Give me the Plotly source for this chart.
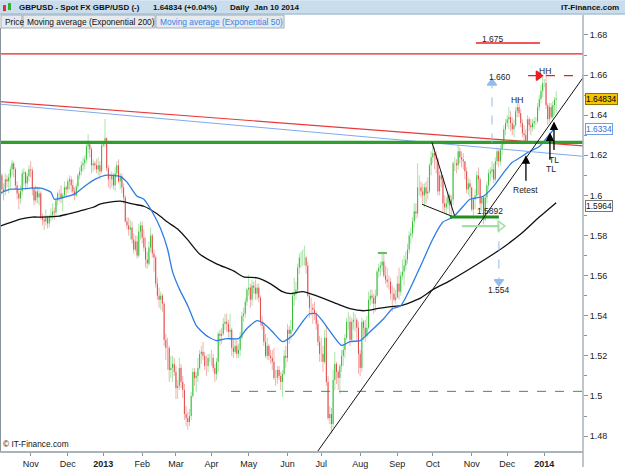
import plotly.graph_objects as go
import pandas as pd

# ---------------- data ----------------
START_DATE = "2012-10-08"   # first visible daily bar (weekdays only)
OPEN_FIRST = 1.6135

close_px = [
    # Oct 2012
    1.6100,1.6030,1.6020,1.6080,1.6070, 1.6090,1.6130,1.6160,1.6130,1.6050, 1.6010,1.5985,1.6020,1.6110,1.6115, 1.6060,1.6095,1.6130,
    # Nov 2012
    1.6125,1.6030, 1.5975,1.6020,1.5990,1.6010,1.5890, 1.5880,1.5870,1.5890,1.5860,1.5890, 1.5900,1.5920,1.5915,1.5975,1.6010, 1.6010,1.5985,1.6000,1.6040,1.6030,
    # Dec 2012
    1.6070,1.6080,1.6050,1.6020,1.6000, 1.6045,1.6100,1.6120,1.6150,1.6160, 1.6180,1.6245,1.6255,1.6230,1.6150, 1.6160,1.6150,1.6130,1.6150,1.6120, 1.6250,
    # Jan 2013
    1.6255, 1.6285,1.6135,1.6080, 1.6080,1.6100,1.6050,1.6110,1.6150, 1.6070,1.6095,1.6040,1.5990,1.5870, 1.5850,1.5830,1.5840,1.5780,1.5730, 1.5770,1.5700,1.5820,1.5850,
    # Feb 2013
    1.5790,1.5740,1.5680,1.5660,1.5740, 1.5800,1.5710,1.5690,1.5560,1.5500, 1.5480,1.5500,1.5460,1.5280,1.5240, 1.5240,1.5130,1.5140,1.5160,1.5120,
    # Mar 2013
    1.5040,1.5050,1.5140,1.5070,1.5030, 1.4910,1.4890,1.4870,1.4900,1.5000, 1.5120,1.5090,1.5100,1.5140,1.5210, 1.5220,1.5200,1.5150,1.5150,1.5190, 1.5190,
    # Apr 2013
    1.5190,1.5140,1.5110,1.5170,1.5310, 1.5300,1.5310,1.5360,1.5370,1.5360, 1.5320,1.5330,1.5240,1.5220,1.5250, 1.5210,1.5230,1.5290,1.5400,1.5410, 1.5470,1.5530,
    # May 2013
    1.5540,1.5480,1.5550, 1.5540,1.5510,1.5540,1.5490,1.5370, 1.5350,1.5270,1.5200,1.5250,1.5200, 1.5190,1.5170,1.5090,1.5090,1.5130, 1.5100,1.5070,1.5110,1.5200,1.5190,
    # Jun 2013
    1.5330,1.5310,1.5330,1.5500,1.5510, 1.5530,1.5640,1.5690,1.5690,1.5690, 1.5690,1.5650,1.5500,1.5440,1.5440, 1.5430,1.5410,1.5360,1.5270,1.5210,
    # Jul 2013
    1.5210,1.5170,1.5290,1.5070,1.4890, 1.4910,1.4860,1.5080,1.5160,1.5120, 1.5090,1.5150,1.5200,1.5230,1.5290, 1.5370,1.5370,1.5280,1.5370,1.5380, 1.5380,1.5340,1.5210,
    # Aug 2013
    1.5140,1.5370, 1.5340,1.5300,1.5340,1.5480,1.5500, 1.5490,1.5460,1.5500,1.5620,1.5640, 1.5650,1.5670,1.5600,1.5580,1.5570, 1.5570,1.5510,1.5510,1.5480,1.5490,
    # Sep 2013
    1.5560,1.5520,1.5600,1.5620,1.5650, 1.5680,1.5730,1.5800,1.5810,1.5870, 1.5920,1.5910,1.6040,1.6040,1.6020, 1.6000,1.6040,1.6010,1.6020,1.6150, 1.6190,
    # Oct 2013
    1.6210,1.6200,1.6180,1.6020, 1.6100,1.6080,1.5960,1.5940,1.5960, 1.6000,1.5950,1.5980,1.6160,1.6160, 1.6150,1.6220,1.6190,1.6180,1.6170, 1.6120,1.6030,1.6060,1.6040,
    # Nov 2013
    1.5930, 1.5980,1.6000,1.6100,1.6080,1.5960, 1.5990,1.5880,1.5990,1.6050,1.6110, 1.6120,1.6130,1.6080,1.6170,1.6220, 1.6170,1.6230,1.6260,1.6330,1.6360,
    # Dec 2013
    1.6380,1.6390,1.6360,1.6330,1.6350, 1.6420,1.6440,1.6410,1.6360,1.6310, 1.6300,1.6270,1.6380,1.6350,1.6340, 1.6360,1.6370,1.6370,1.6440,1.6480, 1.6520,1.6560,
    # Jan 2014
    1.6560,1.6450,1.6380,1.6440,1.6390,1.6450,1.6477,1.64834,
]

high_px = [
    1.6145,1.6110,1.6060,1.6110,1.6100, 1.6110,1.6145,1.6178,1.6170,1.6140, 1.6070,1.6030,1.6050,1.6130,1.6135, 1.6120,1.6110,1.6150,
    1.6172,1.6140, 1.6040,1.6050,1.6040,1.6040,1.6020, 1.5910,1.5900,1.5930,1.5900,1.5905, 1.5935,1.5960,1.5940,1.5990,1.6020, 1.6030,1.6050,1.6010,1.6070,1.6050,
    1.6085,1.6100,1.6095,1.6080,1.6040, 1.6060,1.6110,1.6140,1.6170,1.6190, 1.6200,1.6260,1.6305,1.6270,1.6240, 1.6180,1.6170,1.6180,1.6190,1.6170, 1.6270,
    1.6270, 1.6381,1.6290,1.6150, 1.6110,1.6120,1.6110,1.6140,1.6170, 1.6180,1.6110,1.6110,1.6060,1.6000, 1.5890,1.5890,1.5880,1.5870,1.5810, 1.5800,1.5800,1.5860,1.5870,
    1.5870,1.5830,1.5790,1.5720,1.5770, 1.5840,1.5810,1.5730,1.5700,1.5590, 1.5540,1.5520,1.5510,1.5470,1.5310, 1.5290,1.5250,1.5200,1.5200,1.5190,
    1.5150,1.5080,1.5190,1.5160,1.5100, 1.5060,1.4950,1.4920,1.4935,1.5020, 1.5140,1.5140,1.5120,1.5190,1.5230, 1.5250,1.5270,1.5220,1.5200,1.5210, 1.5210,
    1.5230,1.5210,1.5160,1.5190,1.5320, 1.5330,1.5340,1.5390,1.5410,1.5410, 1.5380,1.5410,1.5340,1.5290,1.5290, 1.5280,1.5260,1.5320,1.5420,1.5440, 1.5490,1.5540,
    1.5605,1.5560,1.5580, 1.5570,1.5580,1.5560,1.5560,1.5500, 1.5400,1.5370,1.5310,1.5290,1.5260, 1.5230,1.5230,1.5240,1.5130,1.5150, 1.5150,1.5120,1.5130,1.5230,1.5250,
    1.5360,1.5350,1.5380,1.5520,1.5590, 1.5570,1.5660,1.5710,1.5720,1.5730, 1.5750,1.5700,1.5670,1.5510,1.5490, 1.5460,1.5470,1.5420,1.5380,1.5300,
    1.5290,1.5250,1.5330,1.5350,1.5100, 1.4950,1.4940,1.5130,1.5220,1.5170, 1.5130,1.5160,1.5230,1.5260,1.5310, 1.5390,1.5420,1.5400,1.5390,1.5420, 1.5410,1.5390,1.5370,
    1.5230,1.5390, 1.5380,1.5380,1.5400,1.5520,1.5530, 1.5530,1.5510,1.5530,1.5630,1.5660, 1.5670,1.5720,1.5710,1.5650,1.5640, 1.5600,1.5590,1.5550,1.5540,1.5530,
    1.5600,1.5640,1.5620,1.5680,1.5700, 1.5720,1.5760,1.5820,1.5840,1.5890, 1.5960,1.5960,1.6160,1.6100,1.6070, 1.6060,1.6060,1.6070,1.6090,1.6160, 1.6220,
    1.6259,1.6240,1.6220,1.6190, 1.6120,1.6120,1.6100,1.6000,1.5990, 1.6020,1.6010,1.6000,1.6170,1.6190, 1.6180,1.6254,1.6240,1.6220,1.6210, 1.6170,1.6140,1.6090,1.6080,
    1.6040, 1.5990,1.6030,1.6120,1.6140,1.6090, 1.6000,1.6000,1.6000,1.6070,1.6130, 1.6140,1.6170,1.6160,1.6190,1.6240, 1.6230,1.6250,1.6280,1.6350,1.6380,
    1.6400,1.6440,1.6420,1.6390,1.6380, 1.6440,1.6485,1.6460,1.6430,1.6380, 1.6350,1.6330,1.6400,1.6390,1.6380, 1.6380,1.6390,1.6390,1.6460,1.6500, 1.6550,1.6590,
    1.6580,1.6604,1.6460,1.6460,1.6460,1.6470,1.6490,1.6520,
]

low_px = [
    1.6080,1.6005,1.5975,1.6000,1.6040, 1.6010,1.6040,1.6100,1.6090,1.6030, 1.5980,1.5930,1.5960,1.6000,1.6050, 1.6030,1.6040,1.6070,
    1.6090,1.6000, 1.5950,1.5960,1.5960,1.5950,1.5880, 1.5850,1.5828,1.5850,1.5835,1.5840, 1.5870,1.5880,1.5880,1.5900,1.5950, 1.5970,1.5960,1.5920,1.5990,1.5990,
    1.6010,1.6030,1.6015,1.6000,1.5975, 1.5990,1.6030,1.6080,1.6100,1.6120, 1.6130,1.6160,1.6210,1.6190,1.6110, 1.6120,1.6130,1.6110,1.6100,1.6080, 1.6110,
    1.6240, 1.6240,1.6120,1.6040, 1.6030,1.6040,1.6030,1.6020,1.6090, 1.6060,1.6030,1.6010,1.5960,1.5865, 1.5830,1.5800,1.5780,1.5760,1.5710, 1.5720,1.5685,1.5690,1.5780,
    1.5760,1.5720,1.5640,1.5634,1.5650, 1.5720,1.5690,1.5620,1.5540,1.5480, 1.5440,1.5430,1.5420,1.5250,1.5180, 1.5130,1.5070,1.5090,1.5070,1.5100,
    1.4985,1.4985,1.5030,1.5040,1.4990, 1.4880,1.4850,1.4832,1.4850,1.4880, 1.4990,1.5050,1.5020,1.5070,1.5130, 1.5160,1.5180,1.5130,1.5100,1.5120, 1.5170,
    1.5150,1.5120,1.5070,1.5080,1.5120, 1.5250,1.5260,1.5300,1.5330,1.5320, 1.5290,1.5280,1.5200,1.5190,1.5210, 1.5190,1.5190,1.5200,1.5280,1.5370, 1.5390,1.5450,
    1.5500,1.5440,1.5450, 1.5510,1.5480,1.5480,1.5470,1.5350, 1.5330,1.5250,1.5190,1.5180,1.5180, 1.5160,1.5130,1.5080,1.5050,1.5060, 1.5080,1.5030,1.4995,1.5100,1.5140,
    1.5170,1.5260,1.5280,1.5320,1.5450, 1.5480,1.5510,1.5610,1.5640,1.5650, 1.5650,1.5610,1.5490,1.5390,1.5400, 1.5360,1.5380,1.5330,1.5250,1.5170,
    1.5170,1.5120,1.5160,1.5050,1.4880, 1.4860,1.4813,1.4840,1.5030,1.5060, 1.5030,1.5010,1.5120,1.5150,1.5190, 1.5280,1.5330,1.5250,1.5270,1.5330, 1.5320,1.5270,1.5110,
    1.5100,1.5120, 1.5280,1.5270,1.5290,1.5330,1.5450, 1.5460,1.5410,1.5420,1.5490,1.5590, 1.5600,1.5620,1.5590,1.5560,1.5540, 1.5530,1.5480,1.5420,1.5470,1.5460,
    1.5490,1.5480,1.5500,1.5580,1.5550, 1.5630,1.5660,1.5710,1.5760,1.5790, 1.5840,1.5880,1.5890,1.6000,1.5990, 1.5960,1.5940,1.5960,1.5980,1.6010, 1.6100,
    1.6160,1.6130,1.6110,1.6000, 1.6000,1.6040,1.5920,1.5910,1.5900, 1.5930,1.5895,1.5890,1.5950,1.6120, 1.6110,1.6130,1.6160,1.6140,1.6130, 1.6080,1.6010,1.6000,1.5990,
    1.5920, 1.5900,1.5930,1.5990,1.6000,1.5930, 1.5920,1.5855,1.5870,1.5960,1.6030, 1.6070,1.6090,1.6060,1.6070,1.6150, 1.6140,1.6150,1.6200,1.6250,1.6300,
    1.6340,1.6330,1.6320,1.6300,1.6290, 1.6340,1.6390,1.6390,1.6340,1.6290, 1.6270,1.6255,1.6260,1.6320,1.6300, 1.6320,1.6330,1.6350,1.6360,1.6420, 1.6460,1.6490,
    1.6540,1.6430,1.6350,1.6360,1.6380,1.6380,1.6400,1.6410,
]

# Moving averages (bar index, value)
ema200_idx = [0,12,19,24,35,40,47,55,59,65,71,79,85,93,99,105,111,118,128,138,144,152,160,167,172,179,187,199,207,215,223,231,237,248,256,266,278,290,298,308,319,329]
ema200_val = [1.5847,1.5882,1.5892,1.5892,1.5897,1.5907,1.5922,1.5941,1.5956,1.5966,1.5971,1.5956,1.5946,1.5907,1.5867,1.5832,1.5778,1.5708,1.5659,1.5624,1.5594,1.5589,1.5559,1.5520,1.5510,1.5520,1.5500,1.5460,1.5435,1.5425,1.5435,1.5445,1.5450,1.5485,1.5530,1.5574,1.5634,1.5698,1.5743,1.5807,1.5892,1.5964]
ema50_idx = [0,6,12,18,24,30,32,38,44,50,56,62,66,71,75,81,85,90,95,99,102,106,111,116,122,128,134,141,146,152,156,161,167,173,179,183,187,191,197,202,207,213,219,227,232,237,248,256,262,268,274,278,286,292,298,303,308,312,319,327,329]
ema50_val = [1.6011,1.6031,1.6031,1.6036,1.6036,1.6016,1.5981,1.5991,1.6006,1.6046,1.6080,1.6100,1.6100,1.6095,1.6066,1.5996,1.5981,1.5917,1.5832,1.5733,1.5619,1.5534,1.5450,1.5351,1.5301,1.5276,1.5286,1.5286,1.5336,1.5376,1.5361,1.5321,1.5271,1.5301,1.5371,1.5410,1.5410,1.5371,1.5301,1.5252,1.5271,1.5276,1.5321,1.5386,1.5435,1.5450,1.5634,1.5783,1.5867,1.5892,1.5946,1.5981,1.5996,1.6046,1.6115,1.6165,1.6190,1.6214,1.6244,1.6324,1.6334]

month_labels = ["Nov", "Dec", "<b>2013</b>", "Feb", "Mar", "Apr", "May", "Jun", "Jul",
                "Aug", "Sep", "Oct", "Nov", "Dec", "<b>2014</b>"]

# drawn levels / tags
LAST_PRICE = 1.64834
EMA50_LAST = 1.6334
EMA200_LAST = 1.5964
LEVEL_RED = 1.6706
LEVEL_1675 = 1.6760
LEVEL_1660 = 1.6597
LEVEL_NECK = 1.6264
LEVEL_1592 = 1.5892
LEVEL_150 = 1.5023

X0, X1 = -0.13, 344.87
Y0, Y1 = 1.47256, 1.68347

# ---------------- build ----------------
n = len(close_px)
dates = pd.bdate_range(START_DATE, periods=n)
x = list(range(n))
open_px = [OPEN_FIRST] + close_px[:-1]
high_px = [max(h, o, c) for h, o, c in zip(high_px, open_px, close_px)]
low_px = [min(l, o, c) for l, o, c in zip(low_px, open_px, close_px)]
body_hi = [max(o, c) for o, c in zip(open_px, close_px)]
body_lo = [min(o, c) for o, c in zip(open_px, close_px)]

tickvals = [i for i in range(1, n) if dates[i].month != dates[i - 1].month]
ticktext = month_labels[:len(tickvals)]

G_LIGHT, G_DARK = "#a9e4a9", "#35bb35"
R_LIGHT, R_DARK = "#f4b0b0", "#e24a4a"

fig = go.Figure()
fig.add_trace(go.Ohlc(
    x=x, open=open_px, high=high_px, low=low_px, close=close_px,
    increasing=dict(line=dict(color=G_LIGHT, width=1)),
    decreasing=dict(line=dict(color=R_LIGHT, width=1)),
    tickwidth=0, hoverinfo="skip", showlegend=False))
fig.add_trace(go.Ohlc(
    x=x, open=open_px, high=body_hi, low=body_lo, close=close_px,
    increasing=dict(line=dict(color=G_DARK, width=1)),
    decreasing=dict(line=dict(color=R_DARK, width=1)),
    tickwidth=0, hoverinfo="skip", showlegend=False))

fig.add_trace(go.Scatter(x=ema200_idx, y=ema200_val, mode="lines",
                         line=dict(color="#111111", width=1.3, shape="spline", smoothing=0.6),
                         hoverinfo="skip", showlegend=False))
fig.add_trace(go.Scatter(x=ema50_idx, y=ema50_val, mode="lines",
                         line=dict(color="#2b7de3", width=1.3, shape="spline", smoothing=0.6),
                         hoverinfo="skip", showlegend=False))


def seg(xs, ys, color, width=1.0, dash="solid"):
    fig.add_trace(go.Scatter(x=xs, y=ys, mode="lines",
                             line=dict(color=color, width=width, dash=dash),
                             hoverinfo="skip", showlegend=False))


def mark(xv, yv, symbol, color, size):
    fig.add_trace(go.Scatter(x=[xv], y=[yv], mode="markers",
                             marker=dict(symbol=symbol, color=color, size=size,
                                         line=dict(color=color, width=1.5)),
                             hoverinfo="skip", showlegend=False))


# long trend / level lines
seg([X0, X1], [1.6468, 1.6247], "#e83a3a", 1.2)        # red descending
seg([X0, X1], [1.6455, 1.6195], "#7eaaf0", 1.0)        # light blue descending
seg([X0, X1], [LEVEL_RED, LEVEL_RED], "#e82020", 1.3)
seg([X0, X1], [LEVEL_NECK, LEVEL_NECK], "#2f9e2f", 3.2)
seg([136.6, X1], [LEVEL_150, LEVEL_150], "#2f9e2f", 1.0, "dash")
seg([223.5, 232.4], [1.5713, 1.5713], "#5cc05c", 2.0, "dash")
seg([281.5, 319.4], [LEVEL_1675, LEVEL_1675], "#e82020", 1.5)
seg([312.3, X1], [LEVEL_1660, LEVEL_1660], "#e82020", 1.3, "dash")
mark(318.5, LEVEL_1660, "triangle-right", "#e82020", 8)

# wedge + main trend line
seg([255.5, 269.1], [LEVEL_NECK, LEVEL_1592], "#111111", 1.0)
seg([249.6, 268.5], [1.5956, LEVEL_1592], "#111111", 1.0)
seg([266.1, 295.1], [LEVEL_1592, LEVEL_1592], "#1f8f1f", 3.0)
seg([188.0, X1], [1.47256, 1.6587], "#111111", 1.0)

# measured-move arrows
seg([291.0, 291.0], [LEVEL_NECK, 1.6550], "#93bbef", 1.0, "dash")
mark(291.0, 1.6560, "triangle-up", "#93bbef", 8)
seg([295.1, 295.1], [1.5860, 1.5578], "#93bbef", 1.0, "dash")
mark(295.1, 1.5570, "triangle-down", "#93bbef", 8)
seg([273.2, 294.8], [1.5847, 1.5847], "#a3dea3", 2.2)
mark(296.0, 1.5847, "triangle-right-open", "#a3dea3", 9)

ann = []


def text(xv, yv, t, size=8.5, color="#222222"):
    ann.append(dict(x=xv, y=yv, xref="x", yref="y", text=t, showarrow=False,
                    font=dict(size=size, color=color)))


def arrow(xv, y_tail, y_tip):
    ann.append(dict(x=xv, y=y_tip, ax=xv, ay=y_tail, xref="x", yref="y",
                    axref="x", ayref="y", text="", showarrow=True,
                    arrowhead=2, arrowsize=1.3, arrowwidth=1.3, arrowcolor="#000000"))


text(291.6, 1.6780, "1.675")
text(322.1, 1.6621, "HH")
text(305.8, 1.6477, "HH")
text(295.7, 1.6592, "1.660")
text(289.8, 1.5922, "1.5892")
text(295.1, 1.5530, "1.554")
text(311.1, 1.6026, "Retest")
text(328.0, 1.6175, "TL")
text(325.9, 1.6130, "TL")
arrow(311.1, 1.6066, 1.6200)
arrow(325.3, 1.6170, 1.6314)
arrow(327.7, 1.6219, 1.6368)

# right-axis price tags
for val, label, bg, bc, fc, ys in [(LAST_PRICE, "1.64834", "#f6c400", "#8c7400", "#000000", -1),
                                   (EMA50_LAST, "1.6334", "#ffffff", "#6f9fe0", "#2f6fd8", -1),
                                   (EMA200_LAST, "1.5964", "#ffffff", "#777777", "#111111", -3)]:
    ann.append(dict(x=1, y=val, xref="paper", yref="y", xanchor="left", yanchor="middle",
                    xshift=2, yshift=ys, text=label,
                    showarrow=False, bgcolor=bg, bordercolor=bc, borderwidth=1, borderpad=0,
                    font=dict(size=8.4, color=fc)))


# header texts (paper coords)
def ptext(xp, yp, t, size=8, color="#111111", xanchor="left"):
    ann.append(dict(x=xp, y=yp, xref="paper", yref="paper", text=t, showarrow=False,
                    xanchor=xanchor, yanchor="middle", font=dict(size=size, color=color)))


PX = 1 / 583.0
def py(ypx):
    return (453 - ypx) / 425.0


ptext(17 * PX, py(7), "<b>GBPUSD - Spot FX GBP/USD (-)</b>", 8)
ptext(151 * PX, py(7), "<b>1.64834 (+0.04%)</b>", 8)
ptext(228 * PX, py(7), "<b>Daily</b>", 8)
ptext(252 * PX, py(7), "<b>Jan 10 2014</b>", 8)
ptext(621 * PX, py(7), "<b>IT-Finance.com</b>", 8, xanchor="right")
ptext(3 * PX, py(21.5), "Price", 8.4)
ptext(25 * PX, py(21.5), "Moving average (Exponential 200)", 8.4)
ptext(158 * PX, py(21.5), "Moving average (Exponential 50)", 8.4, color="#3b82e6")
ptext(1 * PX, py(446), "© IT-Finance.com", 8.3)

shapes = [
    dict(type="rect", xref="paper", yref="paper", x0=0, x1=625 * PX, y0=py(14), y1=py(0),
         fillcolor="#c9ddec", line=dict(width=0), layer="below"),
    dict(type="line", xref="paper", yref="paper", x0=0, x1=625 * PX, y0=py(14), y1=py(14),
         line=dict(color="#8eaec6", width=1)),
    dict(type="rect", xref="paper", yref="paper", x0=1 * PX, x1=22 * PX, y0=py(28), y1=py(15),
         fillcolor="#e6eaed", line=dict(color="#a5b0b8", width=1), layer="below"),
    dict(type="rect", xref="paper", yref="paper", x0=23 * PX, x1=155 * PX, y0=py(28), y1=py(15),
         fillcolor="#e6eaed", line=dict(color="#a5b0b8", width=1), layer="below"),
    dict(type="rect", xref="paper", yref="paper", x0=156 * PX, x1=284 * PX, y0=py(28), y1=py(15),
         fillcolor="#e6eaed", line=dict(color="#a5b0b8", width=1), layer="below"),
    dict(type="rect", xref="paper", yref="paper", x0=3 * PX, x1=6 * PX, y0=py(11), y1=py(5),
         fillcolor="#e03030", line=dict(width=0)),
    dict(type="rect", xref="paper", yref="paper", x0=8 * PX, x1=11 * PX, y0=py(10), y1=py(3),
         fillcolor="#30b030", line=dict(width=0)),
    dict(type="line", xref="paper", yref="paper", x0=1, x1=1, y0=-16 / 425.0, y1=py(15),
         line=dict(color="#a9b3ba", width=1.5)),
    dict(type="line", xref="paper", yref="paper", x0=0.5 * PX, x1=0.5 * PX, y0=0, y1=1,
         line=dict(color="#8a949b", width=1)),
]

fig.update_layout(
    width=625, height=469,
    margin=dict(l=0, r=42, t=28, b=16),
    paper_bgcolor="white", plot_bgcolor="white",
    showlegend=False,
    font=dict(family="Liberation Sans, Arial, sans-serif", size=9, color="#222222"),
    annotations=ann, shapes=shapes,
    xaxis=dict(range=[X0, X1], tickvals=tickvals, ticktext=ticktext,
               ticks="outside", ticklen=3, tickcolor="#8a949b",
               showline=True, linecolor="#a9b3ba", linewidth=1.5,
               showgrid=False, zeroline=False, rangeslider=dict(visible=False),
               tickfont=dict(size=9, color="#222222")),
    yaxis=dict(range=[Y0, Y1], side="right", tick0=1.48, dtick=0.02,
               ticks="outside", ticklen=4, tickcolor="#8a949b",
               minor=dict(dtick=0.01, ticks="outside", ticklen=3, tickcolor="#8a949b"),
               showline=False, showgrid=False, zeroline=False,
               tickfont=dict(size=9, color="#222222")),
)

fig.write_html("out.html")
